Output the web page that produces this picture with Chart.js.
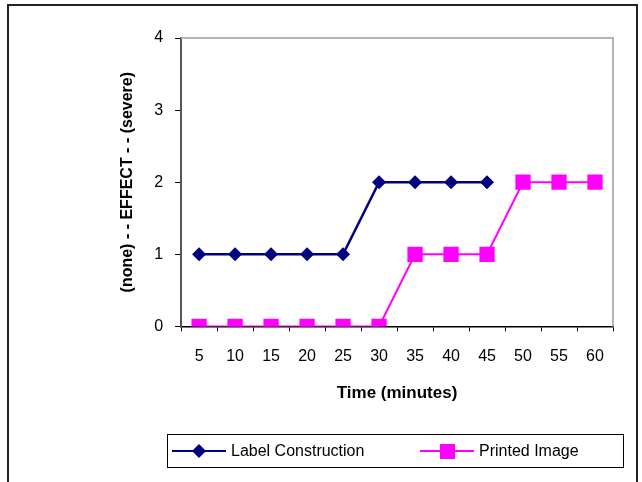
<!DOCTYPE html>
<html>
<head>
<meta charset="utf-8">
<script src="https://cdn.jsdelivr.net/npm/chart.js@4/dist/chart.umd.min.js"></script>
<style>
  html, body { margin: 0; padding: 0; background: #fff; }
  #wrap { position: relative; width: 642px; height: 482px; }
  canvas { display: block; }
</style>
</head>
<body>
<div id="wrap"><canvas id="c" width="642" height="482"></canvas></div>
<script>
const minutes = ['5', '10', '15', '20', '25', '30', '35', '40', '45', '50', '55', '60'];
const labelConstruction = [1, 1, 1, 1, 1, 2, 2, 2, 2];
const printedImage = [0, 0, 0, 0, 0, 0, 1, 1, 1, 2, 2, 2];
const effectTicks = [0, 1, 2, 3, 4];

const NAVY = '#000080';
const MAGENTA = '#FF00FF';
const FONT = '"Liberation Sans", Arial, sans-serif';

// Frame around the figure, grey top/right edges of the plot, and the boxed legend
const decor = {
  id: 'decor',
  afterDraw(chart) {
    const ctx = chart.ctx;
    const a = chart.chartArea;
    ctx.save();
    // plot area top and right edges
    ctx.strokeStyle = '#b4b4b4';
    ctx.lineWidth = 2;
    ctx.beginPath();
    ctx.moveTo(a.left, a.top);
    ctx.lineTo(a.right, a.top);
    ctx.lineTo(a.right, a.bottom);
    ctx.stroke();

    // outer frame
    ctx.strokeStyle = '#222';
    ctx.lineWidth = 2;
    ctx.strokeRect(8, 5, 629, 480);

    // legend box
    const lx = 167, ly = 434, lw = 456, lh = 33;
    ctx.lineWidth = 1;
    ctx.strokeStyle = '#000';
    ctx.strokeRect(lx + 0.5, ly + 0.5, lw, lh);
    const cy = ly + lh / 2 + 0.5;
    ctx.font = '16px ' + FONT;
    ctx.textBaseline = 'middle';
    ctx.fillStyle = '#000';

    // Label Construction entry
    ctx.strokeStyle = NAVY; ctx.lineWidth = 2;
    ctx.beginPath(); ctx.moveTo(172, cy); ctx.lineTo(226, cy); ctx.stroke();
    ctx.fillStyle = NAVY;
    ctx.beginPath();
    ctx.moveTo(199, cy - 7); ctx.lineTo(206, cy); ctx.lineTo(199, cy + 7); ctx.lineTo(192, cy);
    ctx.closePath(); ctx.fill();
    ctx.fillStyle = '#000';
    ctx.fillText('Label Construction', 231, cy + 1);

    // Printed Image entry
    ctx.strokeStyle = MAGENTA; ctx.lineWidth = 2;
    ctx.beginPath(); ctx.moveTo(420, cy); ctx.lineTo(474, cy); ctx.stroke();
    ctx.fillStyle = MAGENTA;
    ctx.fillRect(440, cy - 7, 15, 15);
    ctx.fillStyle = '#000';
    ctx.fillText('Printed Image', 479, cy + 1);
    ctx.restore();
  }
};

new Chart(document.getElementById('c'), {
  type: 'line',
  data: {
    labels: minutes,
    datasets: [
      {
        label: 'Label Construction',
        data: labelConstruction,
        borderColor: NAVY,
        backgroundColor: NAVY,
        borderWidth: 2.5,
        pointStyle: 'rectRot',
        pointRadius: 7,
        pointBorderWidth: 0,
        pointHoverRadius: 7,
        tension: 0
      },
      {
        label: 'Printed Image',
        data: printedImage,
        borderColor: MAGENTA,
        backgroundColor: MAGENTA,
        borderWidth: 2,
        pointStyle: 'rect',
        pointRadius: 10.8,
        pointBorderWidth: 0,
        pointHoverRadius: 10.8,
        tension: 0
      }
    ]
  },
  options: {
    responsive: false,
    animation: false,
    layout: { padding: { left: 118, right: 29, top: 38, bottom: 78 } },
    plugins: {
      legend: { display: false },
      tooltip: { enabled: false }
    },
    scales: {
      x: {
        type: 'category',
        offset: true,
        grid: {
          display: true,
          drawOnChartArea: false,
          drawTicks: true,
          tickLength: 5,
          color: '#000',
          offset: true
        },
        border: { color: '#000', width: 1.5 },
        ticks: {
          color: '#000',
          font: { family: FONT, size: 16 },
          padding: 16,
          maxRotation: 0
        },
        title: {
          display: true,
          text: 'Time (minutes)',
          color: '#000',
          font: { family: FONT, size: 17, weight: 'bold' },
          padding: { top: 1, bottom: 0 }
        }
      },
      y: {
        min: 0,
        max: 4,
        afterBuildTicks(axis) {
          axis.ticks = effectTicks.map(v => ({ value: v }));
        },
        grid: {
          display: true,
          drawOnChartArea: false,
          drawTicks: true,
          tickLength: 6,
          color: '#000'
        },
        border: { color: '#555', width: 2 },
        ticks: {
          color: '#000',
          font: { family: FONT, size: 16 },
          padding: 12
        },
        title: {
          display: true,
          text: '(none) - - EFFECT - - (severe)',
          color: '#000',
          font: { family: FONT, size: 16, weight: 'bold' },
          padding: { top: 0, bottom: 5 }
        }
      }
    }
  },
  plugins: [decor]
});
</script>
</body>
</html>
